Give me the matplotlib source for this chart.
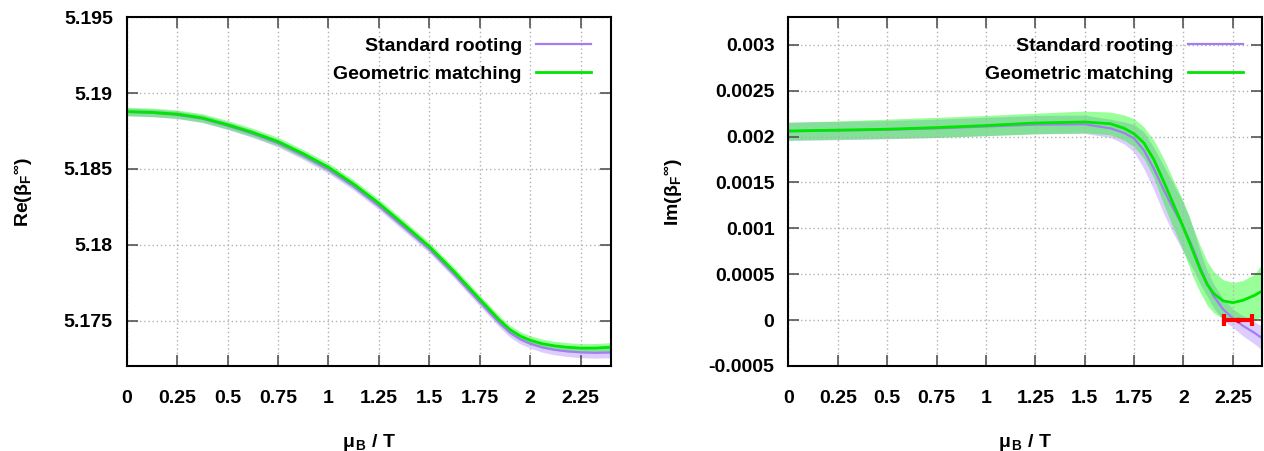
import matplotlib
matplotlib.use('Agg')
import matplotlib.pyplot as plt
from matplotlib.ticker import FuncFormatter

plt.rcParams['font.family'] = ['Liberation Sans', 'DejaVu Sans']
plt.rcParams['font.weight'] = 'bold'
plt.rcParams['axes.labelweight'] = 'bold'
plt.rcParams['font.size'] = 14
plt.rcParams['mathtext.fontset'] = 'custom'
plt.rcParams['mathtext.rm'] = 'Liberation Sans:bold'
plt.rcParams['mathtext.it'] = 'Liberation Sans:bold'
plt.rcParams['mathtext.bf'] = 'Liberation Sans:bold'

# Re(beta_F) curves
mu_re = [0, 0.125, 0.25, 0.375, 0.5, 0.625, 0.75, 0.875, 1.0, 1.125, 1.25, 1.375,
         1.5, 1.625, 1.7, 1.8, 1.85, 1.9, 1.95, 2.0, 2.06, 2.12, 2.18, 2.25,
         2.32, 2.4]
re_geo = [5.18878, 5.18873, 5.18861, 5.18836, 5.18791, 5.18740, 5.18680, 5.18600,
          5.18511, 5.18400, 5.18273, 5.18132, 5.17988, 5.17820, 5.17712, 5.17570,
          5.17500, 5.17440, 5.17398, 5.17370, 5.17347, 5.17333, 5.17324, 5.17318,
          5.17318, 5.17324]
re_geo_err = [0.00028] * 18 + [0.00029, 0.0003, 0.0003, 0.0003, 0.0003, 0.0003,
                               0.0003, 0.0003]
re_std = [5.18876, 5.18870, 5.18857, 5.18831, 5.18785, 5.18732, 5.18670, 5.18588,
          5.18496, 5.18385, 5.18256, 5.18115, 5.17972, 5.17803, 5.17694, 5.17552,
          5.17481, 5.17420, 5.17377, 5.17348, 5.17323, 5.17307, 5.17297, 5.17290,
          5.17287, 5.17289]
re_std_err = [0.00025] * 14 + [0.00026, 0.00027, 0.00028, 0.00029, 0.0003, 0.0003,
                               0.00032, 0.00033, 0.00034, 0.00035, 0.00035, 0.00035]

# Im(beta_F) curves
mu_im = [0, 0.25, 0.5, 0.75, 1.0, 1.25, 1.5, 1.63, 1.7, 1.75, 1.8, 1.85, 1.9, 1.94,
         1.99, 2.026, 2.052, 2.085, 2.12, 2.153, 2.2, 2.25, 2.3, 2.36, 2.4]
im_geo = [0.002061, 0.00207, 0.00208, 0.002098, 0.00212, 0.002148, 0.002159, 0.00214,
          0.00209, 0.00203, 0.00193, 0.00175, 0.00151, 0.00131, 0.00106, 0.00087,
          0.00073, 0.00055, 0.00039, 0.00029, 0.00021, 0.00019, 0.000215, 0.00027,
          0.00032]
im_geo_hi = [0.002155, 0.00217, 0.00219, 0.00221, 0.00223, 0.002255, 0.002278,
             0.002267, 0.002235, 0.002196, 0.002105, 0.00196, 0.00176, 0.00157,
             0.00134, 0.00115, 0.00099, 0.00081, 0.00064, 0.00053, 0.00044, 0.00041,
             0.00043, 0.0005, 0.00062]
im_geo_lo = [0.00196, 0.00197, 0.00198, 0.00199, 0.00201, 0.00203, 0.00204, 0.00202,
             0.00196, 0.00189, 0.00176, 0.00155, 0.00126, 0.00105, 0.0008, 0.0006,
             0.00045, 0.0003, 0.00016, 0.00008, 0.00002, 0.0, 0.0, 0.0, 0.00004]
im_std = [0.002058, 0.002066, 0.002075, 0.00209, 0.00211, 0.00213, 0.002134, 0.00209,
          0.00204, 0.00198, 0.00185, 0.00165, 0.00142, 0.00125, 0.00105, 0.00089,
          0.00076, 0.00057, 0.0004, 0.00026, 0.00012, 0.00002, -0.00006, -0.00014,
          -0.0002]
im_std_err = [0.0001, 0.0001, 0.0001, 0.0001, 0.0001, 0.0001, 0.0001, 0.0001,
              0.00012, 0.00015, 0.0002, 0.00023, 0.00026, 0.00027, 0.00027, 0.00025,
              0.00022, 0.00018, 0.00014, 0.00013, 0.00012, 0.0001, 0.00011, 0.00012,
              0.00013]

# red point on the real axis
zero_mu = [2.276]
zero_im = [0.0]
zero_err = [0.072]

xticks = [0, 0.25, 0.5, 0.75, 1, 1.25, 1.5, 1.75, 2, 2.25]
re_yticks = [5.175, 5.18, 5.185, 5.19, 5.195]
im_yticks = [-0.0005, 0, 0.0005, 0.001, 0.0015, 0.002, 0.0025, 0.003]

purple = '#a67cf2'
purple_band = '#a070ff'
green = '#00e600'
green_band = '#00ff00'

fig = plt.figure(figsize=(12.64, 4.51), dpi=100)
ax1 = fig.add_axes([0.1002, 0.1885, 0.3830, 0.7732])
ax2 = fig.add_axes([0.6237, 0.1885, 0.3751, 0.7732])

gfmt = FuncFormatter(lambda v, p: '%g' % v)


def style(ax, yticks):
    ax.set_xlim(0, 2.4)
    ax.set_xticks(xticks)
    ax.set_yticks(yticks)
    ax.xaxis.set_major_formatter(gfmt)
    ax.yaxis.set_major_formatter(gfmt)
    ax.tick_params(direction='in', length=8, width=1.2, color='#555555',
                   top=True, right=True)
    ax.tick_params(axis='x', pad=17)
    ax.tick_params(axis='y', pad=10)
    ax.grid(True, linestyle=(0, (1, 2)), color='#b0b0b0', linewidth=1)
    for s in ax.spines.values():
        s.set_linewidth(1.5)
    ax.set_xlabel(r'$\mu_{\,B}$ / T', labelpad=18)


# left panel
ax1.fill_between(mu_re, [a - b for a, b in zip(re_std, re_std_err)],
                 [a + b for a, b in zip(re_std, re_std_err)],
                 color=purple_band, alpha=0.35, linewidth=0)
ax1.fill_between(mu_re, [a - b for a, b in zip(re_geo, re_geo_err)],
                 [a + b for a, b in zip(re_geo, re_geo_err)],
                 color=green_band, alpha=0.4, linewidth=0)
ax1.plot(mu_re, re_std, color=purple, lw=1.6, label='Standard rooting')
ax1.plot(mu_re, re_geo, color=green, lw=2, label='Geometric matching')
ax1.set_ylim(5.172, 5.195)
style(ax1, re_yticks)
ax1.set_ylabel(r'Re($\beta_{F}{}^{\infty}$)')
ax1.yaxis.set_label_coords(-0.191, 0.5)

# right panel
ax2.fill_between(mu_im, [a - b for a, b in zip(im_std, im_std_err)],
                 [a + b for a, b in zip(im_std, im_std_err)],
                 color=purple_band, alpha=0.35, linewidth=0)
ax2.fill_between(mu_im, im_geo_lo, im_geo_hi, color=green_band, alpha=0.4, linewidth=0)
ax2.plot(mu_im, im_std, color=purple, lw=1.6, label='Standard rooting')
ax2.plot(mu_im, im_geo, color=green, lw=2, label='Geometric matching')
ax2.errorbar(zero_mu, zero_im, xerr=zero_err, fmt='o', ms=3, color='#ff0000',
             elinewidth=3, capsize=4.5, capthick=3, zorder=5)
ax2.set_ylim(-0.0005, 0.0033)
style(ax2, im_yticks)
ax2.set_ylabel(r'Im($\beta_{F}{}^{\infty}$)')
ax2.yaxis.set_label_coords(-0.220, 0.5)

for ax in (ax1, ax2):
    ax.legend(loc='upper right', frameon=False, markerfirst=False, handlelength=2.8,
              handletextpad=0.75, labelspacing=0.55, borderaxespad=0.62)

fig.savefig('out.png', dpi=100)
